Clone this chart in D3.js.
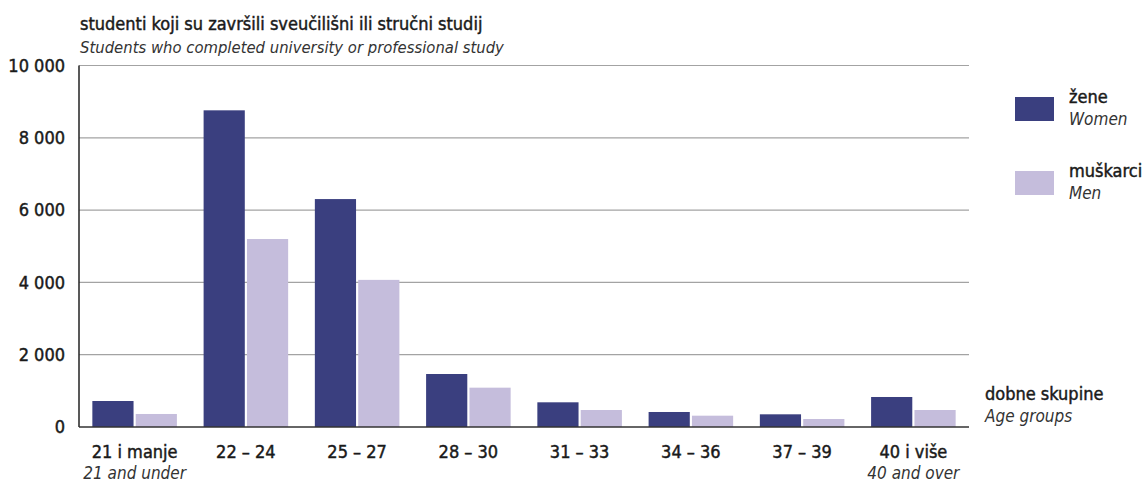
<!DOCTYPE html>
<html>
<head>
<meta charset="utf-8">
<script src="https://cdn.jsdelivr.net/npm/d3@7"></script>
<style>
  body { margin: 0; background: #fff; }
  svg text { font-family: "Liberation Sans Narrow", "DejaVu Sans Condensed", "Liberation Sans", sans-serif; fill: #1a1a1a; stroke: #1a1a1a; stroke-width: 0.45px; }
  svg text.it { font-style: italic; fill: #333; stroke: none; }
</style>
</head>
<body>
<div id="chart"></div>
<script>
const groups = ['21 i manje', '22 – 24', '25 – 27', '28 – 30', '31 – 33', '34 – 36', '37 – 39', '40 i više'];
const groupsEn = ['21 and under', '', '', '', '', '', '', '40 and over'];
const women = [719, 8760, 6305, 1466, 683, 415, 351, 830];
const men = [360, 5200, 4070, 1088, 470, 313, 221, 470];
const yTicks = [0, 2000, 4000, 6000, 8000, 10000];

const series = [
  {key: 'women', label: 'žene', labelEn: 'Women', values: women, color: '#3a3f7f'},
  {key: 'men', label: 'muškarci', labelEn: 'Men', values: men, color: '#c5bddc'}
];

const W = 1143, H = 484;
const margin = {top: 65.5, right: 174, bottom: 57, left: 79};
const innerW = W - margin.left - margin.right;
const innerH = H - margin.top - margin.bottom;

const svg = d3.select('#chart').append('svg')
  .attr('width', W)
  .attr('height', H);

const g = svg.append('g')
  .attr('transform', `translate(${margin.left}, ${margin.top})`);

const x = d3.scaleBand()
  .domain(groups)
  .range([0, innerW])
  .paddingInner(0.24)
  .paddingOuter(0.12);

const xInner = d3.scaleBand()
  .domain(series.map(s => s.key))
  .range([0, x.bandwidth()])
  .paddingInner(0.05);

const y = d3.scaleLinear()
  .domain([0, 10000])
  .range([innerH, 0]);

const fmt = v => d3.format(',')(v).replace(/,/g, ' ');

// grid lines
g.append('g')
  .selectAll('line')
  .data(yTicks.filter(d => d > 0))
  .join('line')
    .attr('x1', 0)
    .attr('x2', innerW)
    .attr('y1', d => y(d))
    .attr('y2', d => y(d))
    .attr('stroke', '#a3a3a3')
    .attr('stroke-width', 1.2);

// y axis labels
const yAxis = g.append('g')
  .call(d3.axisLeft(y).tickValues(yTicks).tickFormat(fmt).tickSize(0).tickPadding(14));
yAxis.select('.domain').remove();
yAxis.selectAll('text')
  .attr('font-size', 18)
  .attr('fill', '#1a1a1a')
  .style('font-family', '"Liberation Sans Narrow", "DejaVu Sans Condensed", sans-serif');

// bars
const grp = g.append('g')
  .selectAll('g')
  .data(groups)
  .join('g')
    .attr('transform', d => `translate(${x(d)}, 0)`);

grp.selectAll('rect')
  .data((d, i) => series.map(s => ({key: s.key, value: s.values[i], color: s.color})))
  .join('rect')
    .attr('x', d => xInner(d.key))
    .attr('width', xInner.bandwidth())
    .attr('y', d => y(d.value))
    .attr('height', d => y(0) - y(d.value))
    .attr('fill', d => d.color);

// axis lines
g.append('line')
  .attr('x1', 0).attr('x2', 0)
  .attr('y1', 0).attr('y2', innerH)
  .attr('stroke', '#222').attr('stroke-width', 1.5);
g.append('line')
  .attr('x1', 0).attr('x2', innerW)
  .attr('y1', innerH).attr('y2', innerH)
  .attr('stroke', '#333').attr('stroke-width', 1.5);

// x labels
const xl = g.append('g')
  .selectAll('g')
  .data(groups)
  .join('g')
    .attr('transform', d => `translate(${x(d) + x.bandwidth() / 2}, ${innerH})`);
xl.append('text')
  .attr('y', 31)
  .attr('text-anchor', 'middle')
  .attr('font-size', 18)
  .text(d => d);
xl.append('text')
  .attr('class', 'it')
  .attr('y', 52)
  .attr('text-anchor', 'middle')
  .attr('font-size', 17)
  .text((d, i) => groupsEn[i]);

// titles
svg.append('text')
  .attr('x', 80).attr('y', 30)
  .attr('font-size', 18)
  .text('studenti koji su završili sveučilišni ili stručni studij');
svg.append('text')
  .attr('class', 'it')
  .attr('x', 80).attr('y', 53)
  .attr('font-size', 16.5)
  .text('Students who completed university or professional study');

// legend
const legend = svg.append('g')
  .selectAll('g')
  .data(series)
  .join('g')
    .attr('transform', (d, i) => `translate(1015, ${97 + i * 74})`);
legend.append('rect')
  .attr('width', 39)
  .attr('height', 24)
  .attr('fill', d => d.color);
legend.append('text')
  .attr('x', 54).attr('y', 6)
  .attr('font-size', 18)
  .text(d => d.label);
legend.append('text')
  .attr('class', 'it')
  .attr('x', 54).attr('y', 28)
  .attr('font-size', 17)
  .text(d => d.labelEn);

svg.append('text')
  .attr('x', 985).attr('y', 400)
  .attr('font-size', 18)
  .text('dobne skupine');
svg.append('text')
  .attr('class', 'it')
  .attr('x', 985).attr('y', 422)
  .attr('font-size', 17)
  .text('Age groups');
</script>
</body>
</html>
